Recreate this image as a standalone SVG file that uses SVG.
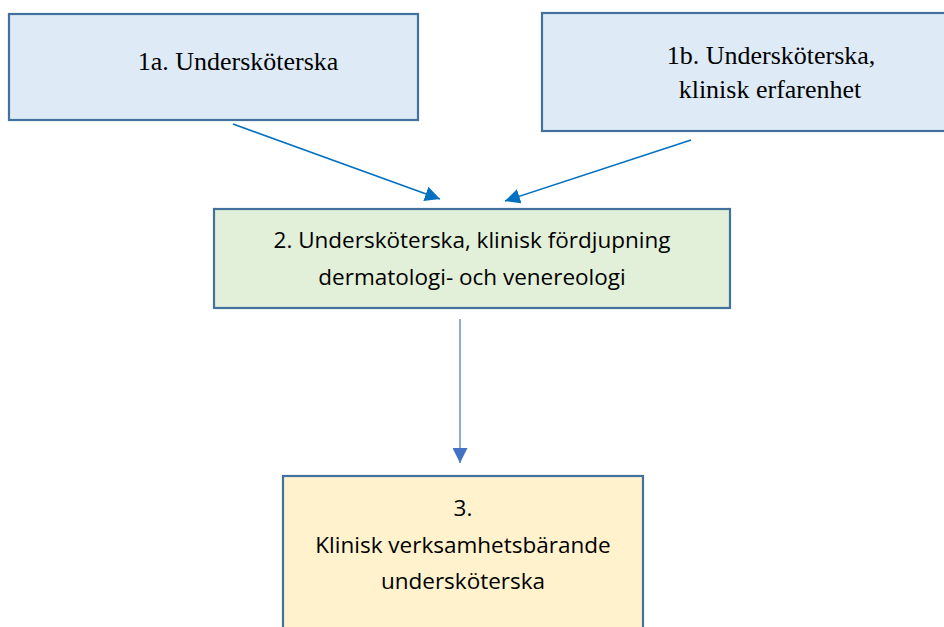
<svg xmlns="http://www.w3.org/2000/svg" width="944" height="627" viewBox="0 0 944 627">
<style>
.box{stroke:#41719C;stroke-width:2.2}
.serif{font-family:"Liberation Serif","Times New Roman",serif;font-size:26px;fill:#000;text-anchor:middle}
.sans{font-family:"Open Sans","Liberation Sans",sans-serif;font-size:22.5px;fill:#000;text-anchor:middle}
.c1{stroke:#0070C0;stroke-width:1.6;fill:none}
.c2{stroke:#4472C4;stroke-width:1.2;fill:none}
</style>
<defs>
<marker id="ah1" viewBox="0 0 10 10" refX="10" refY="5" markerWidth="15" markerHeight="15" markerUnits="userSpaceOnUse" orient="auto"><path d="M0,0 L10,5 L0,10 z" fill="#0070C0"/></marker>
<marker id="ah2" viewBox="0 0 10 10" refX="10" refY="5" markerWidth="15" markerHeight="15" markerUnits="userSpaceOnUse" orient="auto"><path d="M0,0 L10,5 L0,10 z" fill="#4472C4"/></marker>
</defs>
<rect width="944" height="627" fill="#fff"/>
<g id="node1a">
<rect class="box" x="9" y="14" width="409" height="106" fill="#DEEBF7"/>
<text class="serif" x="238" y="70">1a. Undersköterska</text>
</g>
<g id="node1b">
<rect class="box" x="542" y="13" width="410" height="118" fill="#DEEBF7"/>
<text class="serif" x="771" y="64">1b. Undersköterska,</text>
<text class="serif" x="770" y="98">klinisk erfarenhet</text>
</g>
<g id="node2">
<rect class="box" x="214" y="209" width="516" height="99" fill="#E2F0D9"/>
<text class="sans" x="472" y="248">2. Undersköterska, klinisk fördjupning</text>
<text class="sans" x="472" y="285">dermatologi- och venereologi</text>
</g>
<g id="node3">
<rect class="box" x="283" y="476" width="360" height="160" fill="#FFF2CC"/>
<text class="sans" x="463" y="516">3.</text>
<text class="sans" x="463" y="553">Klinisk verksamhetsbärande</text>
<text class="sans" x="463" y="589">undersköterska</text>
</g>
<g id="connectors">
<line class="c1" x1="233" y1="124" x2="440" y2="199" marker-end="url(#ah1)"/>
<line class="c1" x1="691" y1="140" x2="505" y2="201" marker-end="url(#ah1)"/>
<line class="c2" x1="460" y1="319" x2="460" y2="463" marker-end="url(#ah2)"/>
</g>
</svg>
